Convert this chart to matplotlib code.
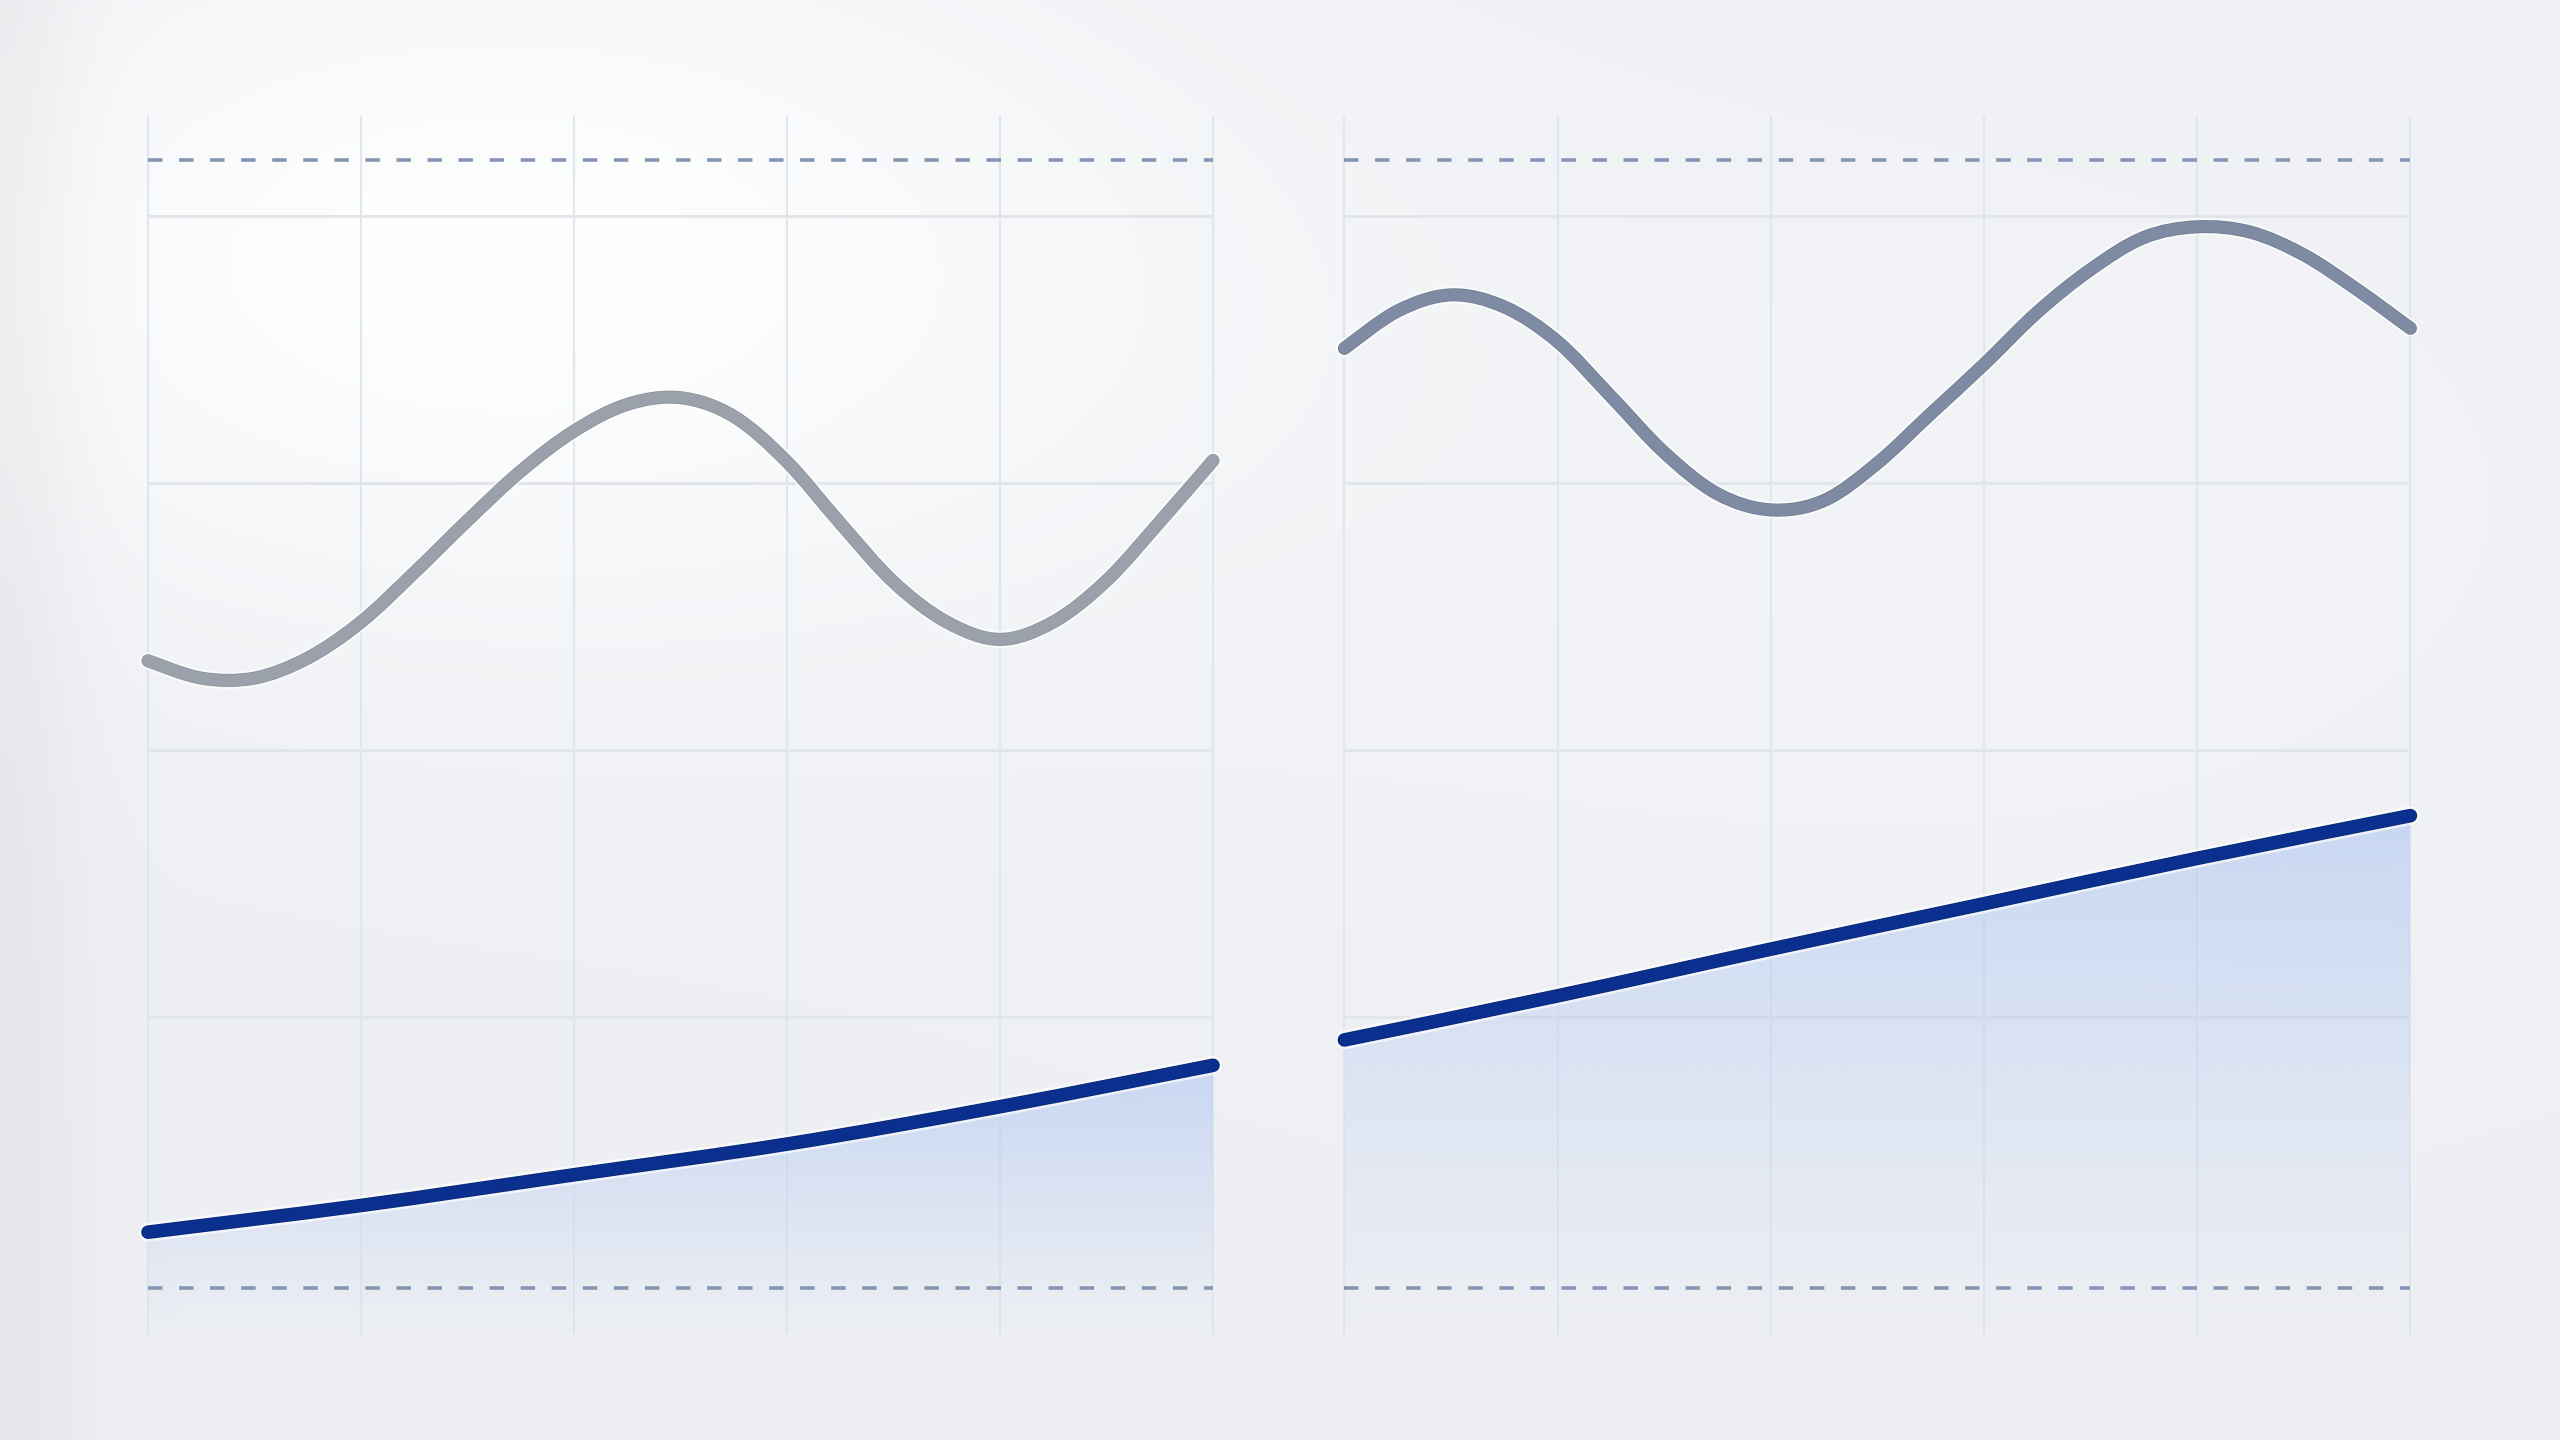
import numpy as np
import matplotlib
matplotlib.use("Agg")
import matplotlib.pyplot as plt
from matplotlib.path import Path
from matplotlib.patches import PathPatch
import matplotlib.patheffects as pe

# ---------------- data ----------------
x_wave = [0, 0.25, 0.5, 0.75, 1.0, 1.25, 1.5, 1.75, 2.0, 2.25, 2.5,
          2.75, 3.0, 3.25, 3.5, 3.75, 4.0, 4.25, 4.5, 4.75, 5.0]
left_wave = [46.7, 45.4, 45.4, 46.9, 49.6, 53.3, 57.2, 60.9, 63.9, 65.9, 66.4,
             65.0, 61.6, 57.0, 52.6, 49.6, 48.3, 49.6, 52.7, 57.1, 61.7]
right_wave = [70.1, 72.9, 74.1, 73.2, 70.6, 66.5, 62.3, 59.2, 58.0, 58.7, 61.5,
              65.2, 68.9, 72.8, 76.0, 78.4, 79.2, 78.8, 77.1, 74.5, 71.6]

x_trend = [0, 1, 2, 3, 4, 5]
left_trend = [3.9, 5.9, 8.2, 10.5, 13.3, 16.4]
right_trend = [18.3, 21.6, 25.1, 28.5, 31.9, 35.1]

x_grid = [0, 1, 2, 3, 4, 5]
y_grid = [20, 40, 60, 80]
ref_low = -0.3
ref_high = 84.2

XLIM = (0, 5)
YLIM = (-3.8, 87.5)

# ---------------- figure ----------------
W, H = 2560, 1440
fig = plt.figure(figsize=(W / 100, H / 100), dpi=100)

# background
bg = fig.add_axes([0, 0, 1, 1], zorder=-10)
yy, xx = np.mgrid[0:H, 0:W].astype(float)
base = np.array([237, 239, 243]) / 255.0
img = np.ones((H, W, 3)) * base
glow = np.exp(-(((xx - 480) / 700.0) ** 2 + ((yy - 260) / 380.0) ** 2))
glow2 = np.exp(-(((xx - 1900) / 1100.0) ** 2 + ((yy - 500) / 600.0) ** 2)) * 0.25
edge = np.exp(-((xx) / 80.0) ** 2) * 0.035
img = img + (1 - img) * np.clip(glow * 0.9 + glow2, 0, 1)[..., None]
img = img - edge[..., None]
bg.imshow(np.clip(img, 0, 1), aspect="auto", extent=[0, 1, 0, 1], origin="upper")
bg.set_axis_off()


def smooth_path(xs, ys):
    pts = np.column_stack([xs, ys]).astype(float)
    n = len(pts)
    verts = [pts[0]]
    codes = [Path.MOVETO]
    for i in range(n - 1):
        p0 = pts[max(i - 1, 0)]
        p1 = pts[i]
        p2 = pts[i + 1]
        p3 = pts[min(i + 2, n - 1)]
        c1 = p1 + (p2 - p0) / 6.0
        c2 = p2 - (p3 - p1) / 6.0
        verts += [c1, c2, p2]
        codes += [Path.CURVE4] * 3
    return verts, codes


def draw_panel(ax, wave, trend, wave_color, wave_edge):
    ax.set_facecolor("none")
    for s in ax.spines.values():
        s.set_visible(False)
    ax.set_xticks([])
    ax.set_yticks([])
    ax.set_xlim(*XLIM)
    ax.set_ylim(*YLIM)

    # grid
    ax.vlines(x_grid, YLIM[0], YLIM[1], colors="#e0e6ef", linewidth=1.5,
              zorder=1, clip_on=False)
    ax.hlines(y_grid, XLIM[0], XLIM[1], colors="#e2e5ea", linewidth=2.2,
              zorder=1, clip_on=False)

    # gradient fill under trend
    verts, codes = smooth_path(x_trend, trend)
    fverts = list(verts) + [(x_trend[-1], YLIM[0]), (x_trend[0], YLIM[0]), verts[0]]
    fcodes = list(codes) + [Path.LINETO, Path.LINETO, Path.CLOSEPOLY]
    fpatch = PathPatch(Path(fverts, fcodes), facecolor="none", edgecolor="none")
    ax.add_patch(fpatch)
    top = max(trend)
    n = 256
    alpha = np.linspace(0.0, 0.72, n) ** 1.1
    grad = np.zeros((n, 2, 4))
    grad[..., 0] = 0.72
    grad[..., 1] = 0.80
    grad[..., 2] = 0.95
    grad[..., 3] = alpha[:, None]
    im = ax.imshow(grad, extent=[XLIM[0], XLIM[1], YLIM[0], top], origin="lower",
                   aspect="auto", zorder=2, interpolation="bilinear")
    im.set_clip_path(fpatch)

    # reference dashed lines
    for yv in (ref_low, ref_high):
        ax.plot(XLIM, [yv, yv], color="#8596b4", linewidth=2.6,
                dashes=(4.0, 4.6), zorder=3, solid_capstyle="butt",
                dash_capstyle="butt")

    # wave line
    wv, wc = smooth_path(x_wave, wave)
    wpatch = PathPatch(Path(wv, wc), fill=False, edgecolor=wave_color,
                       linewidth=8.4, capstyle="round", joinstyle="round",
                       zorder=4, clip_on=False)
    wpatch.set_path_effects([
        pe.Stroke(linewidth=12.5, foreground="white", alpha=0.6),
        pe.Stroke(linewidth=9.4, foreground=wave_edge, alpha=1.0),
        pe.Normal(),
    ])
    ax.add_patch(wpatch)

    # trend line
    tpatch = PathPatch(Path(verts, codes), fill=False, edgecolor="#0b2f8e",
                       linewidth=8.8, capstyle="round", joinstyle="round",
                       zorder=5, clip_on=False)
    tpatch.set_path_effects([
        pe.Stroke(linewidth=13.5, foreground="white", alpha=0.65),
        pe.Stroke(linewidth=9.8, foreground="#08266f", alpha=1.0),
        pe.Normal(),
    ])
    ax.add_patch(tpatch)
    ax.set_xlim(*XLIM)
    ax.set_ylim(*YLIM)


bottom = 105 / H
height = 1219 / H
ax1 = fig.add_axes([148 / W, bottom, 1065 / W, height])
ax2 = fig.add_axes([1344.4 / W, bottom, 1066 / W, height])

draw_panel(ax1, left_wave, left_trend, "#9aa1ab", "#8a919c")
draw_panel(ax2, right_wave, right_trend, "#7e8ba2", "#6e7a90")

fig.savefig("out.png", dpi=100)
